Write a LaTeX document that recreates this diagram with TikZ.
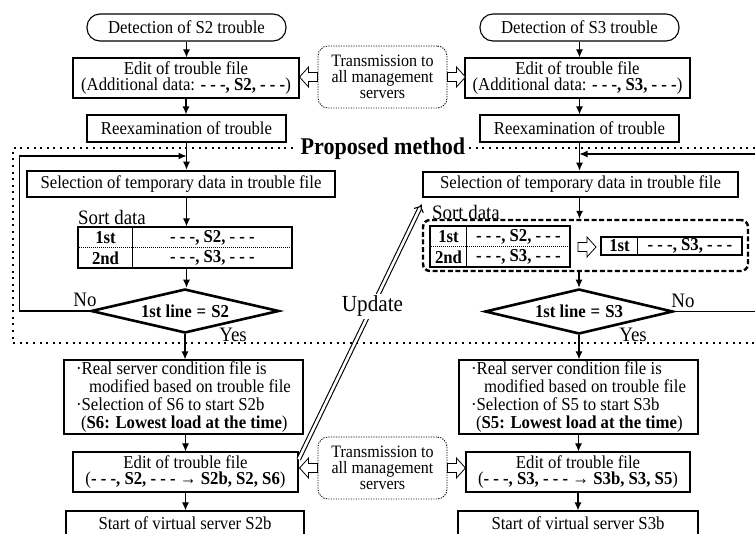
\documentclass[tikz,border=0pt]{standalone}
\usepackage{fontspec}
\setmainfont{Liberation Serif}[FakeStretch=0.92]
\usetikzlibrary{arrows.meta,calc,shapes.geometric}

\tikzset{
  txt/.style={font=\fontsize{18.2}{16.6}\selectfont, inner sep=0pt, align=center},
  tag/.style={txt, font=\fontsize{20.5}{20}\selectfont},
  box/.style={txt, draw, line width=1.3pt},
  term/.style={box, rounded corners=13pt, line width=1.1pt},
  heavy/.style={txt, draw, line width=2.6pt},
  cond/.style={txt, diamond, aspect=4.2, draw, line width=2.6pt, font=\fontsize{18.2}{16.6}\selectfont\bfseries},
  sendbox/.style={txt, draw, line width=0.9pt, dash pattern=on 1.2pt off 1.3pt, rounded corners=10pt,
    font=\fontsize{17.4}{16}\selectfont},
  tablebox/.style={draw, line width=1.3pt, inner sep=0pt},
  cell/.style={txt, font=\fontsize{18.2}{16.6}\selectfont\bfseries},
  flow/.style={line width=1.1pt, -{Latex[length=8pt,width=7pt]}},
  wire/.style={line width=1.1pt},
  proposed/.style={line width=2pt, dash pattern=on 2pt off 4.6pt},
  grpbox/.style={draw, line width=2.4pt, dash pattern=on 5pt off 2.6pt, rounded corners=7pt, inner sep=0pt},
  rowsep/.style={line width=0.6pt, dash pattern=on 1pt off 1pt},
  upd/.style={double, double distance=2.6pt, line width=1.1pt, -{Implies}},
  pics/hollow/.style={code={
    \draw[line width=0.8pt, fill=white]
      (0,-4.5) -- (9,-4.5) -- (9,-10) -- (18,0) -- (9,10) -- (9,4.5) -- (0,4.5) -- cycle;}}
}

\begin{document}
\begin{tikzpicture}[x=1pt, y=-1pt]
\useasboundingbox (0,0) rectangle (755,533);

% ---------- upper part: detection, edit, reexamination ----------
\node[term, minimum width=199pt, minimum height=27pt] (d2) at (186.5,27.5) {Detection of S2 trouble};
\node[term, minimum width=199pt, minimum height=27pt] (d3) at (579.5,27.5) {Detection of S3 trouble};

\node[box, minimum width=226pt, minimum height=40pt] (e2) at (186,78)
  {Edit of trouble file\\(Additional data: \textbf{- - -, S2, - - -})};
\node[box, minimum width=225pt, minimum height=40pt] (e3) at (577.5,78)
  {Edit of trouble file\\(Additional data: \textbf{- - -, S3, - - -})};

\node[sendbox, minimum width=129pt, minimum height=62pt] (t1) at (382.5,77)
  {Transmission to\\all management\\servers};
\pic[rotate=180] at (t1.west) {hollow};
\pic at (t1.east) {hollow};

\node[box, minimum width=199pt, minimum height=27pt] (r2) at (186.5,128.5) {Reexamination of trouble};
\node[box, minimum width=199pt, minimum height=27pt] (r3) at (579.5,128.5) {Reexamination of trouble};

% ---------- proposed method frame ----------
\draw[proposed] (755,148) -| (13,343) -- (755,343);
\node[txt, fill=white, inner xsep=4pt, inner ysep=2pt, font=\fontsize{24}{24}\selectfont\bfseries]
  (pm) at (383,149) {Proposed method};

\node[heavy, minimum width=308pt, minimum height=26pt] (s2) at (181,184)
  {Selection of temporary data in trouble file};
\node[heavy, minimum width=315pt, minimum height=25pt] (s3) at (580.5,184.5)
  {Selection of temporary data in trouble file};

% left sort table
\node[tag, anchor=west] (sd2) at (78,217) {Sort data};
\node[tablebox, minimum width=214pt, minimum height=41pt] (tb2) at (185,247.5) {};
\draw[wire] ($(tb2.north west)+(55,0)$) -- ($(tb2.south west)+(55,0)$);
\draw[rowsep] (tb2.west) -- (tb2.east);
\node[cell] (c21) at (105.5,237.5) {1st};
\node[cell] (c22) at (105.5,258) {2nd};
\node[cell] (c23) at (212.5,237.5) {- - -, S2, - - -};
\node[cell] (c24) at (212.5,258) {- - -, S3, - - -};

% right sort table with re-ordered result
\node[tag, anchor=west] (sd3) at (432,212) {Sort data};
\node[grpbox, minimum width=325pt, minimum height=51pt] (ds3) at (585.5,245.5) {};
\node[tablebox, minimum width=140pt, minimum height=41pt] (tb3) at (500,246.5) {};
\draw[wire] ($(tb3.north west)+(37,0)$) -- ($(tb3.south west)+(37,0)$);
\draw[rowsep] (tb3.west) -- (tb3.east);
\node[cell] (c31) at (448.5,236.5) {1st};
\node[cell] (c32) at (448.5,257) {2nd};
\node[cell] (c33) at (518.5,236.5) {- - -, S2, - - -};
\node[cell] (c34) at (518.5,257) {- - -, S3, - - -};
\pic at (578,247) {hollow};
\node[tablebox, minimum width=141pt, minimum height=18pt] (tb4) at (671.5,246) {};
\draw[wire] ($(tb4.north west)+(37,0)$) -- ($(tb4.south west)+(37,0)$);
\node[cell] (c41) at (619.5,246) {1st};
\node[cell] (c42) at (690,246) {- - -, S3, - - -};

% decisions
\node[cond, minimum width=188pt, minimum height=44pt] (q2) at (185,311) {1st line\hspace{5pt}=\hspace{5pt}S2};
\node[cond, minimum width=188pt, minimum height=45pt] (q3) at (579,311.5) {1st line\hspace{5pt}=\hspace{5pt}S3};
\node[tag] (no2) at (85,300) {No};
\node[tag] (yes2) at (233,335) {Yes};
\node[tag] (no3) at (683,301) {No};
\node[tag] (yes3) at (633,335) {Yes};

% ---------- lower part ----------
\node[box, minimum width=239pt, minimum height=74pt, font=\fontsize{18.2}{17.8}\selectfont, align=left] (m2) at (183.5,397)
  {·Real server condition file is\\\hspace*{13pt}modified based on trouble file\\·Selection of S6 to start S2b\\\hspace*{5pt}(\textbf{S6: Lowest load at the time})};
\node[box, minimum width=239pt, minimum height=74pt, font=\fontsize{18.2}{17.8}\selectfont, align=left] (m3) at (578.5,397)
  {·Real server condition file is\\\hspace*{13pt}modified based on trouble file\\·Selection of S5 to start S3b\\\hspace*{5pt}(\textbf{S5: Lowest load at the time})};

\node[box, minimum width=225pt, minimum height=40pt] (f2) at (185.5,472)
  {Edit of trouble file\\(\textbf{- - -, S2, - - -} → \textbf{S2b, S2, S6})};
\node[box, minimum width=224pt, minimum height=40pt] (f3) at (578,472)
  {Edit of trouble file\\(\textbf{- - -, S3, - - -} → \textbf{S3b, S3, S5})};

\node[sendbox, minimum width=129pt, minimum height=62pt] (t2) at (382.5,468)
  {Transmission to\\all management\\servers};
\pic[rotate=180] at (t2.west) {hollow};
\pic at (t2.east) {hollow};

\node[box, minimum width=238pt, minimum height=24pt] (g2) at (185,523) {Start of virtual server S2b};
\node[box, minimum width=240pt, minimum height=24pt] (g3) at (578,523) {Start of virtual server S3b};

% ---------- connectors ----------
\draw[flow] (d2.south) -- (d2.south |- e2.north);
\draw[flow] (e2.south) -- (e2.south |- r2.north);
\draw[flow] (r2.south) -- (r2.south |- s2.north);
\draw[flow] (r2.south |- s2.south) -- (r2.south |- tb2.north);
\draw[flow] (r2.south |- tb2.south) -- (r2.south |- q2.north);
\draw[flow] (q2.south) -- (q2.south |- m2.north);
\draw[flow] (m2.south -| f2.south) -- (f2.north);
\draw[flow] (f2.south) -- (f2.south |- g2.north);

\draw[flow] (d3.south) -- (d3.south |- e3.north);
\draw[flow] (d3.south |- e3.south) -- (d3.south |- r3.north);
\draw[flow] (r3.south) -- (r3.south |- s3.north);
\draw[flow] (r3.south |- s3.south) -- (r3.south |- ds3.north);
\draw[flow] (q3.north |- ds3.south) -- (q3.north);
\draw[flow] (q3.south) -- (q3.south |- m3.north);
\draw[flow] (m3.south) -- (m3.south |- f3.north);
\draw[flow] (f3.south) -- (f3.south |- g3.north);

% "No" branches
\coordinate (j2) at (186.5,156);
\draw[flow] (q2.west) -- ++(-70,0) |- (j2);
\coordinate (j3) at (579.5,154);
\coordinate (rin) at (755,154);
\coordinate (rout) at (755,311.5);
\draw[flow] (rin) -- (j3);
\draw[wire] (q3.east) -- (rout);

% update of the other server's selection
\draw[upd] ($(f2.north east)+(0,8)$) --
  node[pos=0.6, fill=white, inner sep=2pt, font=\fontsize{23}{23}\selectfont] (up) {Update}
  ($(s3.south west)+(0,6)$);

\end{tikzpicture}
\end{document}
